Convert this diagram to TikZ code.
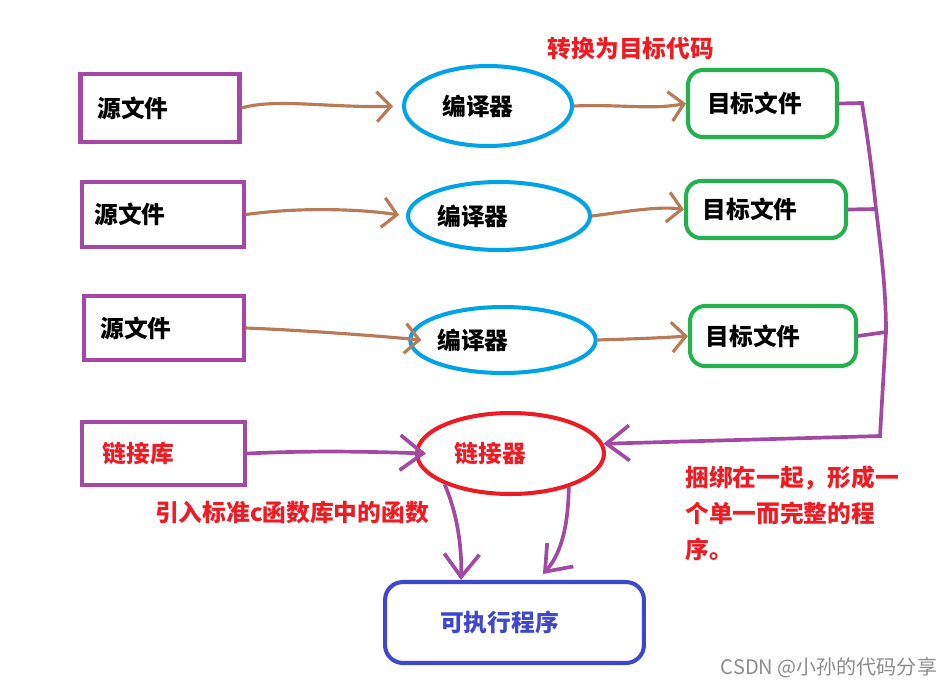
\documentclass[tikz,border=0pt]{standalone}
\usepackage{fontspec}
\newfontfamily\cjk{Noto Sans CJK SC}
\usetikzlibrary{shapes.geometric}
\usetikzlibrary{arrows.meta}
\definecolor{srcpurple}{RGB}{163,73,164}
\definecolor{compblue}{RGB}{0,162,232}
\definecolor{objgreen}{RGB}{34,177,76}
\definecolor{linkred}{RGB}{237,28,36}
\definecolor{exeblue}{RGB}{63,72,204}
\definecolor{flowbrown}{RGB}{185,122,87}
\newcommand{\cjkbold}{\cjk\bfseries\fontsize{13.5}{20.5}\selectfont}
\tikzstyle{src} = [rectangle, draw=srcpurple, line width=2.3pt, inner sep=0pt, font=\cjkbold]
\tikzstyle{comp} = [ellipse, draw=compblue, line width=2.3pt, inner sep=0pt, font=\cjkbold]
\tikzstyle{obj} = [rectangle, rounded corners=0.3cm, draw=objgreen, line width=2.3pt, inner sep=0pt, font=\cjkbold]
\tikzstyle{redtext} = [text=linkred, inner sep=0pt, font=\cjkbold]
\tikzstyle{flow} = [draw=flowbrown, line width=1.8pt, -{Straight Barb[length=8pt,width=17pt]}]
\tikzstyle{bus} = [draw=srcpurple, line width=2.1pt]
\tikzstyle{busarrow} = [draw=srcpurple, line width=2.1pt, -{Straight Barb[length=13pt,width=20pt]}]

\begin{document}
\begin{tikzpicture}[x=0.02cm, y=-0.02cm]
\useasboundingbox (0,0) rectangle (951,691);

\node (src1) [src, minimum width=3.18cm, minimum height=1.36cm] at (160,108) {源文件\hspace*{1.08cm}};
\node (src2) [src, minimum width=3.24cm, minimum height=1.3cm] at (163,214.5) {源文件\hspace*{1.32cm}};
\node (src3) [src, minimum width=3.2cm, minimum height=1.28cm] at (164,328) {源文件\hspace*{1.12cm}};
\node (lib) [src, text=linkred, minimum width=3.26cm, minimum height=1.26cm] at (163.5,453.5) {链接库\hspace*{1cm}};

\node (comp1) [comp, minimum width=3.36cm, minimum height=1.6cm] at (488,106) {编译器\hspace*{0.4cm}};
\node (comp2) [comp, minimum width=3.64cm, minimum height=1.36cm] at (499,216) {编译器\hspace*{1.04cm}};
\node (comp3) [comp, minimum width=3.64cm, minimum height=1.32cm] at (503,340) {编译器\hspace*{1.2cm}};
\node (link) [comp, draw=linkred, text=linkred, minimum width=3.74cm, minimum height=1.62cm] at (510.5,453.5) {链接器\hspace*{0.8cm}};

\node (obj1) [obj, minimum width=2.98cm, minimum height=1.34cm] at (762.5,103.5) {目标文件\hspace*{0.32cm}};
\node (obj2) [obj, minimum width=3.2cm, minimum height=1.14cm] at (766,209.5) {目标文件\hspace*{0.64cm}};
\node (obj3) [obj, minimum width=3.32cm, minimum height=1.2cm] at (773,336) {目标文件\hspace*{0.8cm}};

\node (exe) [obj, draw=exeblue, text=exeblue, rounded corners=0.36cm, minimum width=5.18cm, minimum height=1.62cm] at (514.5,622.5) {可执行程序\hspace*{0.6cm}};

\node (convlabel) [redtext] at (631,49) {转换为目标代码};
\node (stdlabel) [redtext] at (292,512) {引入标准c函数库中的函数};
\node (bindlabel) [redtext, align=left, anchor=north west] at (685,465) {捆绑在一起，形成一\\个单一而完整的程\\序。};
\node (mark) [text=black!45, inner sep=0pt, font=\cjk\fontsize{11.4}{12}\selectfont] at (829,668) {CSDN @小孙的代码分享};

% source -> compiler -> object
\draw [flow, shorten >=0.18cm] (src1.east) .. controls (275,98) and (330,108) .. (comp1.west);
\draw [flow] (comp1.east) .. controls (620,104) and (650,110) .. (obj1.west);
\draw [flow, shorten >=0.14cm] (src2.east) .. controls (300,207) and (360,209) .. (comp2.west);
\draw [flow] (comp2.east) .. controls (630,211) and (660,206) .. (obj2.west);
\draw [flow] (src3.east) .. controls (300,330) and (380,336) .. ([xshift=0.26cm]comp3.west);
\draw [flow] (comp3.east) .. controls (630,339) and (660,338) .. (obj3.west);

% library -> linker
\draw [busarrow] (lib.east) .. controls (320,450) and (380,452) .. ([xshift=0.22cm]link.west);

% objects -> linker
\coordinate (j1) at (862,103);
\coordinate (j2) at (876,209);
\coordinate (j3) at (886,332);
\coordinate (jend) at (880,436);
\draw [bus] (obj2.east) -- (j2);
\draw [bus] (obj3.east) -- (j3);
\draw [busarrow] (obj1.east) -- (j1) .. controls (868,140) and (872,170) .. (j2) .. controls (881,250) and (886,290) .. (j3) -- (jend) -- (link.6);

% linker -> executable
\draw [busarrow] (link.205) .. controls (458,515) and (462,550) .. ([xshift=1.56cm]exe.north west);
\draw [busarrow] (link.330) .. controls (568,530) and (560,555) .. ([xshift=3.2cm,yshift=0.12cm]exe.north west);

\end{tikzpicture}
\end{document}
